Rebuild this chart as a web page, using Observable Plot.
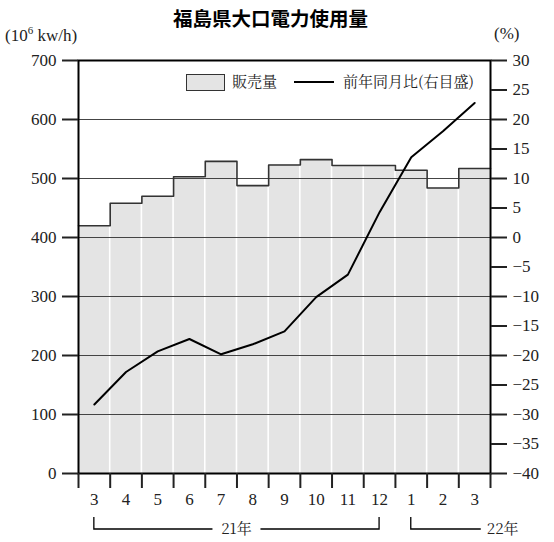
<!DOCTYPE html>
<html>
<head>
<meta charset="utf-8">
<script src="https://cdn.jsdelivr.net/npm/d3@7"></script>
<script src="https://cdn.jsdelivr.net/npm/@observablehq/plot@0.6"></script>
<style>
  body { margin: 0; background: #fff; }
  #wrap { position: relative; width: 554px; height: 542px; }
  .serif { font-family: 'Liberation Serif', 'Noto Serif CJK JP', serif; color: #222; }
  .mincho { font-family: 'Noto Serif CJK JP', 'Liberation Serif', serif; color: #222; }
  .cjk { font-family: 'Noto Sans CJK JP', 'Noto Sans', sans-serif; }
  #title { height: 28px; font-size: 19.5px; font-weight: bold; position: relative; }
  #title span { position: absolute; left: 173px; top: 3px; white-space: nowrap; }
  .abs { position: absolute; white-space: nowrap; line-height: 1.2; }
  #chart svg, #chart svg text { font-family: 'Liberation Serif', 'Noto Serif CJK JP', serif !important; }
  #chart svg text.yr { font-family: 'Noto Serif CJK JP', 'Liberation Serif', serif !important; }
</style>
</head>
<body>
<div id="wrap">
  <div id="title" class="cjk"><span>福島県大口電力使用量</span></div>
  <div id="chart"></div>
  <div class="abs serif" style="left:5px; top:24px; font-size:17px;">(10<sup style="font-size:11px;">6</sup> kw/h)</div>
  <div class="abs serif" style="left:494px; top:24px; font-size:17px;">(%)</div>
  <div class="abs" style="left:186px; top:74px; width:37px; height:15px; background:#e4e4e4; border:1px solid #333;"></div>
  <div class="abs mincho" style="left:232px; top:72px; font-size:15px;">販売量</div>
  <div class="abs" style="left:294px; top:81px; width:40px; height:2px; background:#000;"></div>
  <div class="abs mincho" style="left:343px; top:72px; font-size:15px;">前年同月比(右目盛)</div>
</div>
<script>
const months = ["3","4","5","6","7","8","9","10","11","12","1","2","3"];
const years = ["21年","21年","21年","21年","21年","21年","21年","21年","21年","21年","22年","22年","22年"];
const sales = [420, 458, 470, 503, 529, 488, 523, 532, 522, 522, 514, 484, 517];
const yoy = [-28.3, -22.8, -19.3, -17.2, -19.8, -18.1, -15.9, -10.1, -6.3, 4.3, 13.6, 18.0, 22.8];
const leftTicks = [0, 100, 200, 300, 400, 500, 600, 700];
const rightTicks = [-40, -35, -30, -25, -20, -15, -10, -5, 0, 5, 10, 15, 20, 25, 30];

// right scale (-40..30) mapped onto left scale (0..700)
const toLeft = v => (v + 40) * 10;
const fromLeft = d => d / 10 - 40;

const data = months.map((m, i) => ({i, m, year: years[i], sales: sales[i], yoy: yoy[i]}));
const stepPts = data.map(d => ({x: d.i, y: d.sales})).concat([{x: data.length, y: sales[sales.length - 1]}]);
const fmtR = v => (v < 0 ? "\u2212" + Math.abs(v) : String(v));

const plot = Plot.plot({
  width: 554,
  height: 514,
  marginTop: 32,
  marginBottom: 69,
  marginLeft: 78,
  marginRight: 64,
  style: {fontSize: "17px", color: "#222", background: "#fff"},
  x: {domain: [0, months.length], axis: null},
  y: {domain: [0, 700], axis: null},
  marks: [
    Plot.rectY(data, {x1: "i", x2: d => d.i + 1, y: "sales", fill: "#e4e4e4", insetLeft: 0.8, insetRight: 0.8}),
    Plot.ruleY(leftTicks.filter(t => t > 0 && t < 700), {stroke: "#444", strokeWidth: 1.2}),
    Plot.line(stepPts, {x: "x", y: "y", curve: "step-after", stroke: "#333", strokeWidth: 1.6}),
    Plot.line(data, {x: d => d.i + 0.5, y: d => toLeft(d.yoy), stroke: "#000", strokeWidth: 2}),
    Plot.frame({stroke: "#000", strokeWidth: 2}),
    Plot.axisY({anchor: "left", ticks: leftTicks, tickSize: 16, tickPadding: 6, strokeWidth: 2, fontSize: 17, tickFormat: d => String(d), label: null}),
    Plot.axisY({anchor: "right", ticks: rightTicks.map(toLeft), tickSize: 16, tickPadding: 6, strokeWidth: 2, fontSize: 17, tickFormat: d => fmtR(Math.round(fromLeft(d))), label: null}),
    Plot.axisX({ticks: d3.range(months.length + 1), tickSize: 15, strokeWidth: 2, tickFormat: () => "", label: null}),
    Plot.text(data, {x: d => d.i + 0.5, text: "m", frameAnchor: "bottom", dy: 31, fontSize: 17})
  ]
});
document.getElementById("chart").appendChild(plot);

// year brackets below the month labels
const xs = plot.scale("x");
const svg = d3.select(plot);
const groups = d3.groups(data, d => d.year);
const yB = 514 - 69 + 56;   // bracket baseline (px within svg)
const tickUp = 12;
groups.forEach(([yr, rows], gi) => {
  const x0 = xs.apply(rows[0].i + 0.5);
  const x1 = xs.apply(rows[rows.length - 1].i + 0.5);
  const g = svg.append("g").attr("stroke", "#000").attr("stroke-width", 1.3).attr("fill", "none");
  if (gi === 0) {
    const mid = (x0 + x1) / 2;
    const half = 24;
    g.append("path").attr("d", `M${x0},${yB - tickUp}V${yB}H${mid - half}M${mid + half},${yB}H${x1}V${yB - tickUp}`);
    svg.append("text").attr("class", "yr").attr("x", mid).attr("y", yB).attr("dy", "0.35em").attr("text-anchor", "middle")
      .attr("font-size", 15).attr("fill", "#222").text(yr);
  } else {
    const end = x0 + 70;
    g.append("path").attr("d", `M${x0},${yB - tickUp}V${yB}H${end}`);
    svg.append("text").attr("class", "yr").attr("x", end + 6).attr("y", yB).attr("dy", "0.35em").attr("text-anchor", "start")
      .attr("font-size", 15).attr("fill", "#222").text(yr);
  }
});
</script>
</body>
</html>
